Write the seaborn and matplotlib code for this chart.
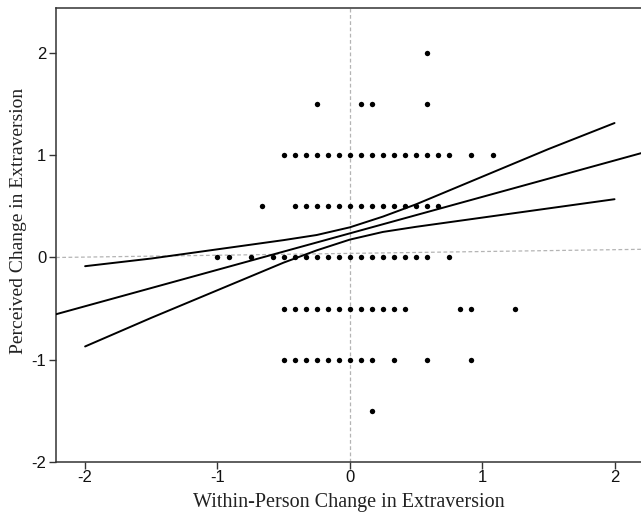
import numpy as np
import pandas as pd
import matplotlib
matplotlib.use("Agg")
import matplotlib.pyplot as plt
import seaborn as sns

# ---- data ----
# scatter points: x positions are in twelfths of a unit, one list per perceived-change level
row_levels = [2.0, 1.5, 1.0, 0.5, 0.0, -0.5, -1.0, -1.5]
row_x12 = [
    [7],
    [-3, 1, 2, 7],
    [-6, -5, -4, -3, -2, -1, 0, 1, 2, 3, 4, 5, 6, 7, 8, 9, 11, 13],
    [-8, -5, -4, -3, -2, -1, 0, 1, 2, 3, 4, 5, 6, 7, 8],
    [-12, -11, -9, -7, -6, -5, -4, -3, -2, -1, 0, 1, 2, 3, 4, 5, 6, 7, 9],
    [-6, -5, -4, -3, -2, -1, 0, 1, 2, 3, 4, 5, 10, 11, 15],
    [-6, -5, -4, -3, -2, -1, 0, 1, 2, 4, 7, 11],
    [2],
]

# fitted regression line (end points read at the axes edges)
reg_x = [-2.22, 2.20]
reg_y = [-0.555, 1.02]

# confidence band lines
band_x = [-2.0, -1.5, -1.0, -0.5, -0.25, 0.0, 0.25, 0.5, 1.0, 1.5, 2.0]
band_upper = [-0.085, -0.01, 0.08, 0.17, 0.22, 0.295, 0.40, 0.52, 0.79, 1.06, 1.315]
band_lower = [-0.87, -0.59, -0.32, -0.05, 0.07, 0.175, 0.25, 0.30, 0.39, 0.48, 0.57]

# dashed reference line (near-horizontal)
ref_x = [-2.22, 2.20]
ref_y = [0.0, 0.08]

x_ticks = [-2, -1, 0, 1, 2]
y_ticks = [-2, -1, 0, 1, 2]
x_label = "Within-Person Change in Extraversion"
y_label = "Perceived Change in Extraversion"

# ---- build frames ----
pts = pd.DataFrame(
    [(k / 12.0, lvl) for lvl, ks in zip(row_levels, row_x12) for k in ks],
    columns=["x", "y"],
)
reg_df = pd.DataFrame({"x": reg_x, "y": reg_y})
up_df = pd.DataFrame({"x": band_x, "y": band_upper})
lo_df = pd.DataFrame({"x": band_x, "y": band_lower})
ref_df = pd.DataFrame({"x": ref_x, "y": ref_y})

sns.set_theme(style="white")
plt.rcParams["font.family"] = ["Liberation Sans", "DejaVu Sans"]

fig = plt.figure(figsize=(6.41, 5.15), dpi=100)
ax = fig.add_axes([56 / 641, 53 / 515, 1 - 56 / 641, (462 - 8) / 515])

grey = "#b4b4b4"
ax.axvline(0, color=grey, lw=0.9, ls=(0, (3, 2)), zorder=1)
sns.lineplot(data=ref_df, x="x", y="y", ax=ax, color=grey, lw=0.9,
             linestyle=(0, (3, 2)), estimator=None, sort=False, zorder=1)

sns.scatterplot(data=pts, x="x", y="y", ax=ax, color="black", s=15,
                linewidth=0, zorder=3)

for df in (reg_df, up_df, lo_df):
    sns.lineplot(data=df, x="x", y="y", ax=ax, color="black", lw=1.4,
                 estimator=None, sort=False, zorder=4)

ax.set_xlim(-2.22, 2.20)
ax.set_ylim(-2.0, 2.44)
ax.set_xticks(x_ticks)
ax.set_yticks(y_ticks)
ax.set_xticklabels([str(t) for t in x_ticks])
ax.set_yticklabels([str(t) for t in y_ticks])
ax.tick_params(axis="both", which="both", direction="out", length=5, width=1,
               color="#333333", labelsize=12, labelcolor="#111111",
               bottom=True, left=True, pad=2)
ax.tick_params(axis="x", pad=1)

for side in ("left", "bottom", "top"):
    ax.spines[side].set_visible(True)
    ax.spines[side].set_color("#333333")
    ax.spines[side].set_linewidth(1.1)
ax.spines["right"].set_visible(False)

serif = ["Liberation Serif", "DejaVu Serif"]
ax.set_xlabel(x_label, family=serif, fontsize=14.5, color="#222222", va="center")
ax.set_ylabel(y_label, family=serif, fontsize=14, color="#222222", va="center")
ax.xaxis.set_label_coords(0.5, (462 - 502) / 454)
ax.yaxis.set_label_coords((19 - 56) / 585, (462 - 221) / 454)

fig.savefig("out.png", dpi=100)
